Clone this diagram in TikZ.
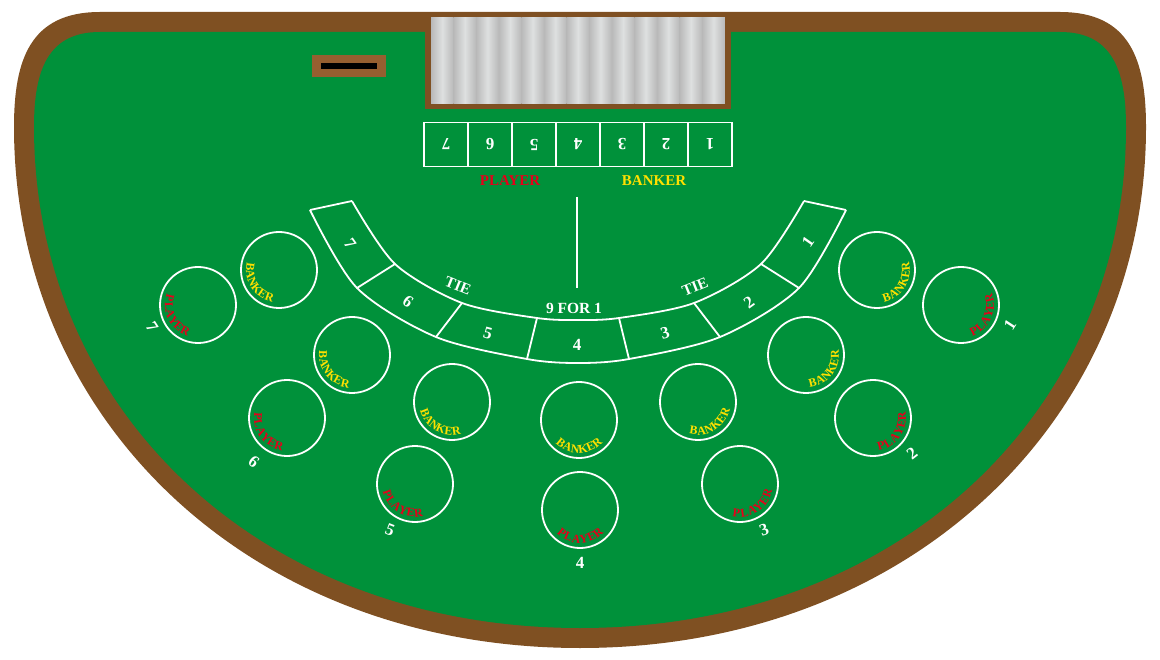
\documentclass[tikz,border=0pt]{standalone}
\usepackage{fontspec}
\setmainfont{Liberation Serif}
\definecolor{felt}{RGB}{0,145,58}
\definecolor{wood}{RGB}{127,80,34}
\definecolor{slotwood}{RGB}{150,95,48}
\definecolor{pred}{RGB}{229,0,26}
\definecolor{pyel}{RGB}{255,224,0}
\definecolor{g1}{RGB}{185,185,185}
\definecolor{g2}{RGB}{222,224,224}
\tikzset{
  x=1pt,y=1pt,
  wl/.style={white, line width=1.8pt},
  ring/.style={circle, draw=white, line width=1.8pt, minimum size=76pt, inner sep=0pt},
  dig/.style={text=white, font=\bfseries\fontsize{17}{17}\selectfont},
  seat/.style={text=white, font=\bfseries\fontsize{17}{17}\selectfont},
  lbl/.style={text=white, inner sep=1pt, font=\bfseries\fontsize{15.5}{15.5}\selectfont},
  big/.style={font=\bfseries\fontsize{15}{15}\selectfont},
  arcch/.style={inner sep=0pt, font=\bfseries\fontsize{12}{12}\selectfont},
}
% #1 circle, #2 mid angle, #3 colour, #4 list of letters
\newcommand{\arctext}[4]{%
  \foreach \ch [count=\i] in {#4}{
    \pgfmathsetmacro{\ang}{#2+(\i-3.5)*15.5}
    \path (#1) ++(\ang:29) node[arcch, text=#3, rotate=\ang+90] {\ch};
  }}
\begin{document}
\begin{tikzpicture}
\useasboundingbox (0,0) rectangle (1160,-660);
% table
\fill[wood] (100,-12) -- (1060,-12) .. controls (1130,-12) and (1146,-60) .. (1146,-127)
  .. controls (1146,-420) and (910,-648) .. (580,-648)
  .. controls (250,-648) and (14,-420) .. (14,-127)
  .. controls (14,-60) and (30,-12) .. (100,-12) -- cycle;
\fill[felt] (100,-32) -- (1060,-32) .. controls (1112,-32) and (1126,-70) .. (1126,-127)
  .. controls (1126,-410) and (900,-628) .. (580,-628)
  .. controls (260,-628) and (34,-410) .. (34,-127)
  .. controls (34,-70) and (48,-32) .. (100,-32) -- cycle;
% chip tray
\fill[wood] (425,-12) rectangle (731,-109);
\foreach \i in {0,...,12}{
  \shade[left color=g1, right color=g1, middle color=g2]
    ({431+\i*22.6},-18) rectangle ({431+(\i+1)*22.6},-104);
}
% discard slot
\fill[slotwood] (312,-55) rectangle (386,-77);
\fill[black] (321,-63) rectangle (377,-69);
% number boxes
\foreach \n [count=\k from 0] in {7,6,5,4,3,2,1}{
  \node[draw=white, line width=1.8pt, minimum width=44pt, minimum height=44pt, inner sep=0pt,
        dig, rotate=180] (box\n) at ({446+\k*44},-144.5) {\n};
}
\node[big, text=pred] (lp) at (510,-181) {PLAYER};
\node[big, text=pyel] (lb) at (654,-181) {BANKER};
\coordinate (vt) at (577,-197);
\coordinate (vb) at (577,-288);
\draw[wl] (vt) -- (vb);
% band
\draw[wl] plot[smooth] coordinates {(310,-210) (357,-288) (436,-337) (527,-359) (578,-363) (629,-359) (720,-337) (799,-288) (846,-210)};
\draw[wl] plot[smooth] coordinates {(804,-201) (761,-264) (694,-303) (619,-318) (578,-320) (537,-318) (462,-303) (395,-264) (352,-201)};
\draw[wl] (310,-210) -- (352,-201) (846,-210) -- (804,-201);
\draw[wl] (357,-288) -- (395,-264) (436,-337) -- (462,-303) (527,-359) -- (537,-318)
          (799,-288) -- (761,-264) (720,-337) -- (694,-303) (629,-359) -- (619,-318);
\node[dig, rotate=-55] (b7) at (350,-244) {7};
\node[dig, rotate=-36] (b6) at (408,-302) {6};
\node[dig, rotate=-15] (b5) at (488,-333) {5};
\node[dig] (b4) at (577,-345) {4};
\node[dig, rotate=15] (b3) at (665,-333) {3};
\node[dig, rotate=36] (b2) at (749,-302) {2};
\node[dig, rotate=55] (b1) at (808,-242) {1};
\node[lbl, rotate=-22] (tie1) at (458,-286) {TIE};
\node[lbl] (nine) at (574,-308) {9 FOR 1};
\node[lbl, rotate=22] (tie2) at (695,-287) {TIE};
% betting circles
\node[ring] (B7) at (279,-270) {}; \node[ring] (P7) at (198,-305) {};
\node[ring] (B6) at (352,-355) {}; \node[ring] (P6) at (287,-418) {};
\node[ring] (B5) at (452,-402) {}; \node[ring] (P5) at (415,-484) {};
\node[ring] (B4) at (579,-420) {}; \node[ring] (P4) at (580,-510) {};
\node[ring] (B3) at (698,-402) {}; \node[ring] (P3) at (740,-484) {};
\node[ring] (B2) at (806,-355) {}; \node[ring] (P2) at (873,-418) {};
\node[ring] (B1) at (877,-270) {}; \node[ring] (P1) at (961,-305) {};
\arctext{B7}{212}{pyel}{B,A,N,K,E,R}
\arctext{P7}{205}{pred}{P,L,A,Y,E,R}
\arctext{B6}{218}{pyel}{B,A,N,K,E,R}
\arctext{P6}{215}{pred}{P,L,A,Y,E,R}
\arctext{B5}{240}{pyel}{B,A,N,K,E,R}
\arctext{P5}{238}{pred}{P,L,A,Y,E,R}
\arctext{B4}{270}{pyel}{B,A,N,K,E,R}
\arctext{P4}{270}{pred}{P,L,A,Y,E,R}
\arctext{B3}{300}{pyel}{B,A,N,K,E,R}
\arctext{P3}{302}{pred}{P,L,A,Y,E,R}
\arctext{B2}{322}{pyel}{B,A,N,K,E,R}
\arctext{P2}{325}{pred}{P,L,A,Y,E,R}
\arctext{B1}{328}{pyel}{B,A,N,K,E,R}
\arctext{P1}{335}{pred}{P,L,A,Y,E,R}
% seat numbers
\node[seat, rotate=-57] (s7) at (152,-327) {7};
\node[seat, rotate=-38] (s6) at (254,-462) {6};
\node[seat, rotate=-21] (s5) at (390,-530) {5};
\node[seat] (s4) at (580,-563) {4};
\node[seat, rotate=21] (s3) at (764,-530) {3};
\node[seat, rotate=38] (s2) at (912,-453) {2};
\node[seat, rotate=57] (s1) at (1010,-325) {1};
\end{tikzpicture}
\end{document}
